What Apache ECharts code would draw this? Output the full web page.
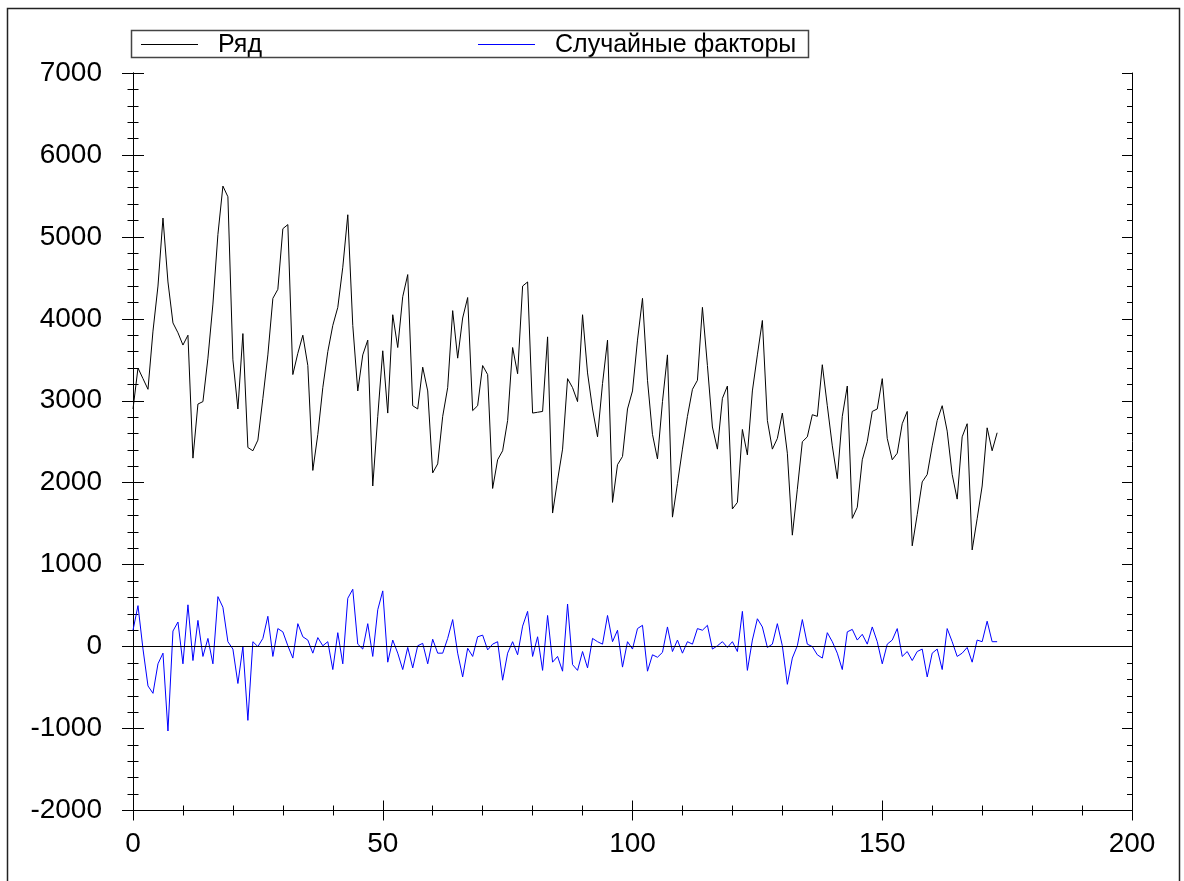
<!DOCTYPE html>
<html>
<head>
<meta charset="utf-8">
<script src="https://cdn.jsdelivr.net/npm/echarts@6/dist/echarts.min.js"></script>
<style>
  html, body { margin: 0; padding: 0; background: #fff; }
  #chart { width: 1184px; height: 881px; }
</style>
</head>
<body>
<div id="chart"></div>
<script>
// Series names shown in the legend
const seriesNames = ['Ряд', 'Случайные факторы'];
const seriesColors = ['#000000', '#0000ff'];

// Observed series, one value per time step (x = 0, 1, 2, ...)
const ryad = [
  2900, 3400, 3270, 3140, 3850, 4400, 5230, 4450, 3950, 3830,
  3680, 3800, 2300, 2960, 2990, 3520, 4180, 5030, 5620, 5490,
  3500, 2900, 3820, 2430, 2390, 2520, 3030, 3560, 4250, 4360,
  5100, 5150, 3320, 3580, 3800, 3430, 2150, 2590, 3160, 3600,
  3920, 4140, 4630, 5270, 3920, 3120, 3560, 3740, 1960, 2810,
  3610, 2850, 4050, 3650, 4270, 4540, 2940, 2900, 3410, 3120,
  2120, 2230, 2810, 3160, 4100, 3520, 4010, 4260, 2880, 2940,
  3430, 3320, 1930, 2280, 2390, 2760, 3650, 3330, 4400, 4450,
  2850, 2860, 2870, 3780, 1630, 2030, 2410, 3270, 3160, 2990,
  4050, 3340, 2900, 2560, 3210, 3740, 1760, 2220, 2320, 2900,
  3120, 3740, 4250, 3250, 2590, 2290, 2990, 3560, 1580, 1990,
  2410, 2810, 3140, 3250, 4140, 3430, 2680, 2410, 3030, 3180,
  1680, 1760, 2650, 2340, 3120, 3560, 3980, 2760, 2410, 2540,
  2850, 2360, 1360, 1920, 2500, 2560, 2830, 2810, 3440, 2940,
  2450, 2050, 2810, 3180, 1565, 1700, 2280, 2500, 2870, 2900,
  3270, 2540, 2280, 2360, 2720, 2870, 1230, 1610, 2010, 2100,
  2450, 2760, 2940, 2630, 2100, 1800, 2560, 2720, 1180, 1560,
  1960, 2670, 2390, 2610
];

// Random component of the series
const sluchainye = [
   200,  500,  -30, -480, -570, -210,  -80, -1030,  190,  300,
  -210,  510, -170,  320, -120,  100, -210,  610,  480,   60,
   -30, -450,    0, -900,   60,    0,  100,  370, -120,  220,
   180,   10, -140,  280,  120,   80,  -80,  110,   10,   60,
  -280,  170, -210,  590,  700,   30,  -30,  280, -120,  450,
   680, -190,   80,  -80, -280,  -10, -260,   10,   40, -210,
    90,  -80,  -80,  100,  330,  -80, -370,  -20, -120,  120,
   140,  -40,   30,   60, -410,  -80,   60, -100,  250,  430,
  -120,  120, -290,  380, -190, -120, -300,  520, -220, -290,
   -60, -260,  100,   60,   30,  380,   60,  200, -250,   60,
   -30,  220,  260, -300, -100, -130,  -70,  240,  -60,   80,
   -80,   60,   30,  220,  200,  260,  -30,   10,   60,  -10,
    60,  -60,  430, -290,   80,  340,  240,  -10,   30,  280,
    10, -460, -140,   10,  330,   30,    0, -100, -140,  170,
    60,  -80, -280,  180,  210,   80,  150,   30,  240,   60,
  -210,   30,   80,  220, -120,  -60, -170,  -60,  -30, -370,
   -80,  -30, -280,  220,   60, -120,  -80,  -10, -190,   80,
    60,  310,   60,   60
];

// Axis ranges and tick steps
const xRange = { min: 0, max: 200, step: 50 };
const yRange = { min: -2000, max: 7000, step: 1000 };

const FONT = "'Liberation Sans', Arial, sans-serif";
const toPairs = arr => arr.map((v, i) => [i, v]);
const plainNumber = v => String(v);

function xAxisDef(inside, labels) {
  return {
    type: 'value', gridIndex: 0, position: 'bottom',
    min: xRange.min, max: xRange.max, interval: xRange.step,
    axisLine: { show: true, onZero: false, lineStyle: { color: '#000', width: 1 } },
    axisTick: { show: true, inside: inside, length: 10, lineStyle: { color: '#000', width: 1 } },
    minorTick: { show: true, splitNumber: 5, length: 5, lineStyle: { color: '#000', width: 1 } },
    axisLabel: { show: labels, margin: 20, color: '#000', fontSize: 28, fontFamily: FONT, formatter: plainNumber },
    splitLine: { show: false }, minorSplitLine: { show: false }
  };
}

function yAxisDef(position, inside, labels, tickLen) {
  return {
    type: 'value', gridIndex: 0, position: position,
    min: yRange.min, max: yRange.max, interval: yRange.step,
    axisLine: { show: true, onZero: false, lineStyle: { color: '#000', width: 1 } },
    axisTick: { show: true, inside: inside, length: tickLen, lineStyle: { color: '#000', width: 1 } },
    minorTick: { show: true, splitNumber: 5, length: tickLen / 2, lineStyle: { color: '#000', width: 1 } },
    axisLabel: { show: labels, margin: 31, color: '#000', fontSize: 28, fontFamily: FONT, formatter: plainNumber },
    splitLine: { show: false }, minorSplitLine: { show: false }
  };
}

// Legend layout: where each entry's line sample starts
const legendLeft = [141, 478];
const legendSampleWidth = 57;
const legendY = 44;

// Legend entry: name only; the line sample is drawn beside it as a graphic
function legendDef(idx) {
  return {
    data: [seriesNames[idx]],
    left: legendLeft[idx], top: 33, padding: 0,
    icon: 'none', itemWidth: legendSampleWidth, itemHeight: 20,
    selectedMode: false,
    textStyle: { color: '#000', fontSize: 25, fontFamily: FONT, padding: [0, 0, 0, 15] }
  };
}

function legendSample(idx) {
  return {
    type: 'line', silent: true, z: 100,
    shape: { x1: legendLeft[idx], y1: legendY + 0.5, x2: legendLeft[idx] + legendSampleWidth, y2: legendY + 0.5 },
    style: { stroke: seriesColors[idx], lineWidth: 1 }
  };
}

const chart = echarts.init(document.getElementById('chart'), null, { renderer: 'canvas' });

chart.setOption({
  animation: false,
  backgroundColor: '#fff',
  grid: { left: 133, top: 73, width: 999, height: 737.5, containLabel: false },
  xAxis: [xAxisDef(false, true), xAxisDef(true, false)],
  yAxis: [
    yAxisDef('left', false, true, 11),
    yAxisDef('left', true, false, 11),
    yAxisDef('right', true, false, 10)
  ],
  legend: [legendDef(0), legendDef(1)],
  graphic: [
    {
      type: 'rect', silent: true, z: 100,
      shape: { x: 7.5, y: 8.5, width: 1172, height: 900 },
      style: { fill: null, stroke: '#222', lineWidth: 1.5 }
    },
    {
      type: 'rect', silent: true, z: 100,
      shape: { x: 131.5, y: 30.5, width: 677, height: 27 },
      style: { fill: null, stroke: '#444', lineWidth: 1.5 }
    },
    legendSample(0),
    legendSample(1)
  ],
  series: [
    {
      name: seriesNames[0], type: 'line', xAxisIndex: 0, yAxisIndex: 0,
      data: toPairs(ryad), symbol: 'none', smooth: false,
      lineStyle: { color: seriesColors[0], width: 1 }, itemStyle: { color: seriesColors[0] },
      markLine: {
        silent: true, symbol: ['none', 'none'], label: { show: false },
        lineStyle: { color: '#000', width: 1, type: 'solid' },
        data: [{ yAxis: 0 }]
      }
    },
    {
      name: seriesNames[1], type: 'line', xAxisIndex: 0, yAxisIndex: 0,
      data: toPairs(sluchainye), symbol: 'none', smooth: false,
      lineStyle: { color: seriesColors[1], width: 1 }, itemStyle: { color: seriesColors[1] }
    }
  ]
});
</script>
</body>
</html>
